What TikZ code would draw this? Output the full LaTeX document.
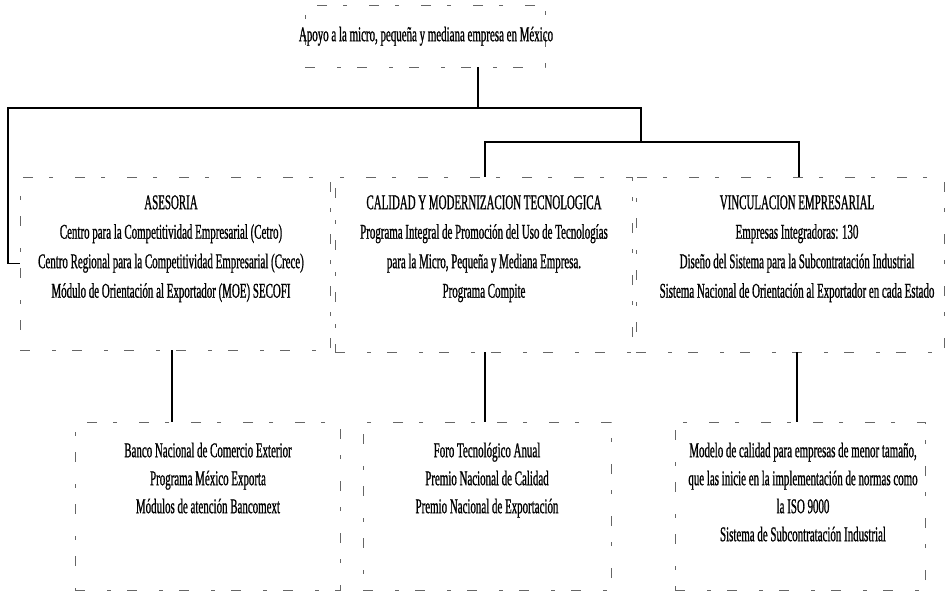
\documentclass[tikz,border=0pt]{standalone}
\usepackage{fontspec}
\setmainfont[FakeStretch=0.52,FakeBold=0.8]{Liberation Serif}
\begin{document}
\begin{tikzpicture}[x=1pt,y=-1pt,
  box/.style={draw=black!60, line width=0.7pt, dash pattern=on 10pt off 22pt on 4pt off 16pt, inner sep=0pt},
  conn/.style={line width=1.6pt, line cap=rect},
  txt/.style={align=center, inner sep=0pt, anchor=north, font=\fontsize{21}{29.5}\selectfont},
  txtb/.style={align=center, inner sep=0pt, anchor=north, font=\fontsize{21}{28}\selectfont}]
\useasboundingbox (0,0) rectangle (947,596);
% boxes
\node[box, minimum width=240pt, minimum height=62pt] (topbox) at (425,36) {};
\node[box, minimum width=310pt, minimum height=173pt] (ases) at (175,263.5) {};
\node[box, minimum width=297pt, minimum height=175pt] (cal) at (483.5,264.5) {};
\node[box, minimum width=308pt, minimum height=175pt] (vinc) at (790,264.5) {};
\node[box, minimum width=265pt, minimum height=168pt] (bl) at (207.5,506) {};
\node[box, minimum width=248pt, minimum height=168pt] (bm) at (487,506) {};
\node[box, minimum width=250pt, minimum height=168pt] (br) at (800,506) {};
% texts
\node[txt] (toptxt) at (426,25) {\rule{0pt}{16pt}Apoyo a la micro, pequeña y mediana empresa en México};
\node[txt] (asestxt) at (171,193) {\rule{0pt}{16pt}ASESORIA\\
Centro para la Competitividad Empresarial (Cetro)\\
Centro Regional para la Competitividad Empresarial (Crece)\\
Módulo de Orientación al Exportador (MOE) SECOFI};
\node[txt] (caltxt) at (484,193) {\rule{0pt}{16pt}CALIDAD Y MODERNIZACION TECNOLOGICA\\
Programa Integral de Promoción del Uso de Tecnologías\\
para la Micro, Pequeña y Mediana Empresa.\\
Programa Compite};
\node[txt] (vinctxt) at (797,193) {\rule{0pt}{16pt}VINCULACION EMPRESARIAL\\
Empresas Integradoras: 130\\
Diseño del Sistema para la Subcontratación Industrial\\
Sistema Nacional de Orientación al Exportador en cada Estado};
\node[txtb] (bltxt) at (208,441) {\rule{0pt}{16pt}Banco Nacional de Comercio Exterior\\
Programa México Exporta\\
Módulos de atención Bancomext};
\node[txtb] (bmtxt) at (487,441) {\rule{0pt}{16pt}Foro Tecnológico Anual\\
Premio Nacional de Calidad\\
Premio Nacional de Exportación};
\node[txtb] (brtxt) at (803,441) {\rule{0pt}{16pt}Modelo de calidad para empresas de menor tamaño,\\
que las inicie en la implementación de normas como\\
la ISO 9000\\
Sistema de Subcontratación Industrial};
% connectors
\coordinate (j1) at (478,108);
\coordinate (jl) at (8,108);
\coordinate (jr) at (641,108);
\coordinate (j2) at (641,142);
\coordinate (j2l) at (485,142);
\coordinate (j2r) at (799,142);
\draw[conn] (topbox.south -| j1) -- (j1);
\draw[conn] (jl) -- (jr);
\draw[conn] (jl) |- (ases.west);
\draw[conn] (jr) -- (j2);
\draw[conn] (j2l) -- (j2r);
\draw[conn] (j2l) -- (j2l |- cal.north);
\draw[conn] (j2r) -- (j2r |- vinc.north);
\draw[conn] ([xshift=-3pt]ases.south) -- ([xshift=-3pt]ases.south |- bl.north);
\draw[conn] ([xshift=1.5pt]cal.south) -- ([xshift=1.5pt]cal.south |- bm.north);
\draw[conn] ([xshift=7pt]vinc.south) -- ([xshift=7pt]vinc.south |- br.north);
\end{tikzpicture}
\end{document}
